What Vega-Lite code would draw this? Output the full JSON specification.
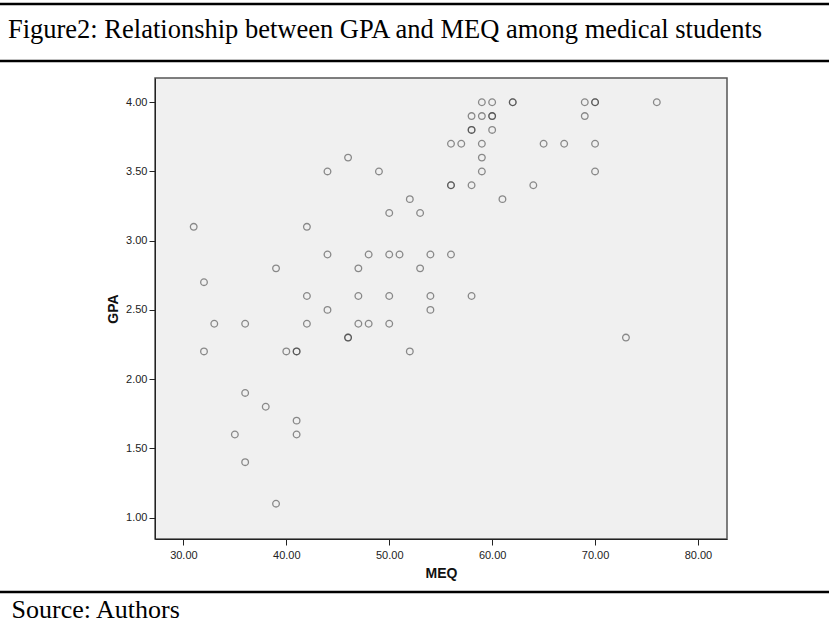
{
  "$schema": "https://vega.github.io/schema/vega-lite/v6.json",
  "autosize": "none",
  "width": 572,
  "height": 461,
  "padding": {"left": 155, "top": 78, "right": 102, "bottom": 92},
  "background": "white",
  "config": {
    "view": {"fill": "#f0f0f0", "stroke": "#555555", "strokeWidth": 1.5},
    "axis": {
      "labelFont": "Liberation Sans",
      "labelFontSize": 11,
      "labelColor": "#222222",
      "titleFont": "Liberation Sans",
      "titleFontSize": 14,
      "titleFontWeight": "bold",
      "titleColor": "#111111",
      "domainColor": "#222222",
      "tickColor": "#222222",
      "tickSize": 6,
      "grid": false
    }
  },
  "datasets": {
    "points": [
      {"MEQ": 31, "GPA": 3.1}, {"MEQ": 32, "GPA": 2.7}, {"MEQ": 32, "GPA": 2.2}, {"MEQ": 33, "GPA": 2.4},
      {"MEQ": 35, "GPA": 1.6}, {"MEQ": 36, "GPA": 2.4}, {"MEQ": 36, "GPA": 1.9}, {"MEQ": 36, "GPA": 1.4},
      {"MEQ": 38, "GPA": 1.8}, {"MEQ": 39, "GPA": 2.8}, {"MEQ": 39, "GPA": 1.1}, {"MEQ": 40, "GPA": 2.2},
      {"MEQ": 41, "GPA": 2.2}, {"MEQ": 41, "GPA": 2.2}, {"MEQ": 41, "GPA": 1.7}, {"MEQ": 41, "GPA": 1.6},
      {"MEQ": 42, "GPA": 3.1}, {"MEQ": 42, "GPA": 2.6}, {"MEQ": 42, "GPA": 2.4}, {"MEQ": 44, "GPA": 3.5},
      {"MEQ": 44, "GPA": 2.9}, {"MEQ": 44, "GPA": 2.5}, {"MEQ": 46, "GPA": 3.6}, {"MEQ": 46, "GPA": 2.3},
      {"MEQ": 46, "GPA": 2.3}, {"MEQ": 47, "GPA": 2.8}, {"MEQ": 47, "GPA": 2.6}, {"MEQ": 47, "GPA": 2.4},
      {"MEQ": 48, "GPA": 2.9}, {"MEQ": 48, "GPA": 2.4}, {"MEQ": 49, "GPA": 3.5}, {"MEQ": 50, "GPA": 3.2},
      {"MEQ": 50, "GPA": 2.9}, {"MEQ": 50, "GPA": 2.6}, {"MEQ": 50, "GPA": 2.4}, {"MEQ": 51, "GPA": 2.9},
      {"MEQ": 52, "GPA": 3.3}, {"MEQ": 52, "GPA": 2.2}, {"MEQ": 53, "GPA": 3.2}, {"MEQ": 53, "GPA": 2.8},
      {"MEQ": 54, "GPA": 2.9}, {"MEQ": 54, "GPA": 2.6}, {"MEQ": 54, "GPA": 2.5}, {"MEQ": 56, "GPA": 3.7},
      {"MEQ": 56, "GPA": 3.4}, {"MEQ": 56, "GPA": 3.4}, {"MEQ": 56, "GPA": 2.9}, {"MEQ": 57, "GPA": 3.7},
      {"MEQ": 58, "GPA": 3.9}, {"MEQ": 58, "GPA": 3.8}, {"MEQ": 58, "GPA": 3.8}, {"MEQ": 58, "GPA": 3.4},
      {"MEQ": 58, "GPA": 2.6}, {"MEQ": 59, "GPA": 4.0}, {"MEQ": 59, "GPA": 3.9}, {"MEQ": 59, "GPA": 3.7},
      {"MEQ": 59, "GPA": 3.6}, {"MEQ": 59, "GPA": 3.5}, {"MEQ": 60, "GPA": 4.0}, {"MEQ": 60, "GPA": 3.9},
      {"MEQ": 60, "GPA": 3.9}, {"MEQ": 60, "GPA": 3.8}, {"MEQ": 61, "GPA": 3.3}, {"MEQ": 62, "GPA": 4.0},
      {"MEQ": 62, "GPA": 4.0}, {"MEQ": 64, "GPA": 3.4}, {"MEQ": 65, "GPA": 3.7}, {"MEQ": 67, "GPA": 3.7},
      {"MEQ": 69, "GPA": 4.0}, {"MEQ": 69, "GPA": 3.9}, {"MEQ": 70, "GPA": 4.0}, {"MEQ": 70, "GPA": 4.0},
      {"MEQ": 70, "GPA": 3.7}, {"MEQ": 70, "GPA": 3.5}, {"MEQ": 73, "GPA": 2.3}, {"MEQ": 76, "GPA": 4.0}
    ]
  },
  "layer": [
    {
      "data": {"name": "points"},
      "mark": {"type": "point", "shape": "circle", "filled": false, "size": 44, "stroke": "#333333", "strokeOpacity": 0.78, "strokeWidth": 1.3},
      "encoding": {
        "x": {
          "field": "MEQ", "type": "quantitative", "title": "MEQ",
          "scale": {"domain": [27.24, 82.82], "nice": false, "zero": false},
          "axis": {"values": [30, 40, 50, 60, 70, 80], "format": ".2f", "labelPadding": 4, "titlePadding": 6}
        },
        "y": {
          "field": "GPA", "type": "quantitative", "title": "GPA",
          "scale": {"domain": [0.845, 4.175], "nice": false, "zero": false},
          "axis": {"values": [1, 1.5, 2, 2.5, 3, 3.5, 4], "format": ".2f", "labelPadding": 2, "titlePadding": 5}
        }
      }
    },
    {
      "data": {"values": [{"line": "top"}]},
      "mark": {"type": "rule", "color": "black", "strokeWidth": 2.5},
      "encoding": {"x": {"datum": 12}, "x2": {"datum": 93}, "y": {"datum": 4.71}}
    },
    {
      "data": {"values": [{"line": "below caption"}]},
      "mark": {"type": "rule", "color": "black", "strokeWidth": 2.5},
      "encoding": {"x": {"datum": 12}, "x2": {"datum": 93}, "y": {"datum": 4.298}}
    },
    {
      "data": {"values": [{"line": "above source"}]},
      "mark": {"type": "rule", "color": "black", "strokeWidth": 2.5},
      "encoding": {"x": {"datum": 12}, "x2": {"datum": 93}, "y": {"datum": 0.462}}
    },
    {
      "data": {"values": [{"label": "Figure2: Relationship between GPA and MEQ among medical students"}]},
      "mark": {"type": "text", "align": "left", "baseline": "alphabetic", "font": "Liberation Serif", "fontSize": 26.5, "color": "black"},
      "encoding": {"x": {"datum": 12.95}, "y": {"datum": 4.464}, "text": {"field": "label"}}
    },
    {
      "data": {"values": [{"label": "Source: Authors"}]},
      "mark": {"type": "text", "align": "left", "baseline": "alphabetic", "font": "Liberation Serif", "fontSize": 26, "color": "black"},
      "encoding": {"x": {"datum": 13.3}, "y": {"datum": 0.274}, "text": {"field": "label"}}
    }
  ]
}
